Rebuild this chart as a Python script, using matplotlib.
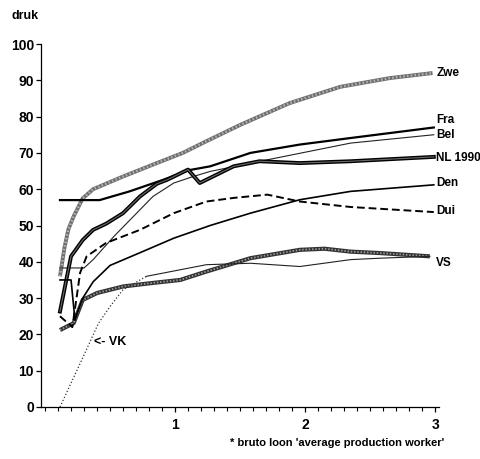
import matplotlib
matplotlib.use('Agg')
import matplotlib.pyplot as plt
import numpy as np

plt.rcParams['font.family'] = ['Liberation Sans', 'DejaVu Sans']
plt.rcParams['font.weight'] = 'bold'

# druk (%) against bruto loon in multiples of the 'average production worker' wage
zwe_x = [0.115, 0.15, 0.18, 0.22, 0.29, 0.37, 0.6, 0.86, 1.06, 1.24, 1.5, 1.88, 2.27, 2.65, 2.98]
zwe_y = [36, 44, 49, 52.5, 57.5, 60, 63.5, 67.2, 70, 73.2, 77.7, 83.7, 88.2, 90.6, 92]

fra_x = [0.115, 0.42, 0.65, 0.91, 1.1, 1.27, 1.58, 1.96, 2.35, 2.99]
fra_y = [57, 57, 59.4, 62.6, 65.2, 66.3, 70, 72.3, 74.1, 77]

bel_x = [0.115, 0.3, 0.37, 0.53, 0.68, 0.83, 0.99, 1.14, 1.27, 1.71, 2.35, 2.99]
bel_y = [38.3, 38.3, 40.6, 47, 52.5, 58, 61.7, 63.5, 64.9, 68.1, 72.7, 75]

nl_x = [0.115, 0.2, 0.29, 0.37, 0.47, 0.6, 0.73, 0.86, 0.94, 1.1, 1.19, 1.45, 1.65, 1.96, 2.35, 2.99]
nl_y = [26.3, 41.5, 46, 48.8, 50.5, 53.4, 58, 61.5, 62.6, 65.4, 61.7, 66.3, 67.7, 67.2, 67.7, 68.9]

den_x = [0.115, 0.2, 0.23, 0.29, 0.37, 0.5, 0.73, 0.99, 1.27, 1.58, 1.96, 2.35, 2.99]
den_y = [35, 35, 24, 30, 34.5, 39, 42.5, 46.5, 50, 53.4, 57.1, 59.4, 61.2]

dui_x = [0.115, 0.21, 0.27, 0.32, 0.47, 0.73, 0.99, 1.24, 1.45, 1.71, 1.96, 2.35, 2.99]
dui_y = [25, 22, 37, 41.5, 45.2, 48.8, 53.4, 56.6, 57.6, 58.5, 56.6, 55.1, 53.7]

vs_x = [0.115, 0.22, 0.29, 0.4, 0.6, 0.81, 1.04, 1.24, 1.58, 1.96, 2.15, 2.35, 2.58, 2.96]
vs_y = [21.2, 23.1, 29.5, 31.4, 33.2, 34.1, 35, 37.3, 41, 43.3, 43.6, 42.8, 42.4, 41.5]

vk_x = [0.115, 0.27, 0.41, 0.5, 0.6, 0.78, 1.24, 1.58, 1.96, 2.35, 2.58, 2.96]
vk_y = [0, 12, 23, 27.7, 32.3, 36, 39.2, 39.6, 38.7, 40.6, 41, 41.5]

labels = ['Zwe', 'Fra', 'Bel', 'NL 1990', 'Den', 'Dui', 'VS']
label_y = [92, 79, 75, 68.5, 61.7, 53.9, 39.6]

fig = plt.figure(figsize=(4.8, 4.59), dpi=100)
ax = fig.add_axes([41 / 480, 1 - 407 / 459, 398 / 480, 363 / 459])

# Zwe: grey hatched band
ax.plot(zwe_x, zwe_y, color='#6e6e6e', lw=2.8, solid_capstyle='butt')
ax.plot(zwe_x, zwe_y, color='#b4b4b4', lw=1.8, dashes=(0.6, 0.9))
# VS: dark beaded band
ax.plot(vs_x, vs_y, color='#333333', lw=3.0, solid_capstyle='butt')
ax.plot(vs_x, vs_y, color='#9a9a9a', lw=1.3, dashes=(0.8, 1.0))

ax.plot(fra_x, fra_y, color='black', lw=1.6)
ax.plot(bel_x, bel_y, color='#222222', lw=0.8)
ax.plot(nl_x, nl_y, color='black', lw=2.8)
ax.plot(nl_x, nl_y, color='#6a6a6a', lw=0.8)
ax.plot(den_x, den_y, color='black', lw=1.2)
ax.plot(dui_x, dui_y, color='black', lw=1.4, dashes=(4, 2))
ax.plot(vk_x[:6], vk_y[:6], color='#333333', lw=0.9, linestyle=':')
ax.plot(vk_x[5:], vk_y[5:], color='#222222', lw=0.8)

for name, ly in zip(labels, label_y):
    ax.text(3.01, ly, name, ha='left', va='center', fontsize=8.5,
            fontweight='bold', clip_on=False)
ax.text(0.38, 17.9, '<- VK', ha='left', va='center', fontsize=9, fontweight='bold')

ax.set_xlim(-0.031, 3.03)
ax.set_ylim(0, 100)
ax.set_yticks(np.arange(0, 101, 10))
ax.set_xticks([1, 2, 3])
ax.set_xticks(np.arange(0, 3.01, 0.1), minor=True)
ax.tick_params(axis='y', length=3.6, width=0.9, pad=1.5, labelsize=10)
ax.tick_params(axis='x', which='major', length=3.6, width=0.9, pad=4, labelsize=10)
ax.tick_params(axis='x', which='minor', length=3.0, width=0.8)
for lab in ax.get_xticklabels() + ax.get_yticklabels():
    lab.set_fontweight('bold')

for side in ['top', 'right']:
    ax.spines[side].set_visible(False)
for side in ['left', 'bottom']:
    ax.spines[side].set_linewidth(0.9)

fig.text(25 / 480, 1 - 16 / 459, 'druk', ha='center', va='center', fontsize=9,
         fontweight='bold')
fig.text(444 / 480, 1 - 443 / 459, "* bruto loon 'average production worker'",
         ha='right', va='center', fontsize=8, fontweight='bold')

plt.savefig('out.png', dpi=100)
